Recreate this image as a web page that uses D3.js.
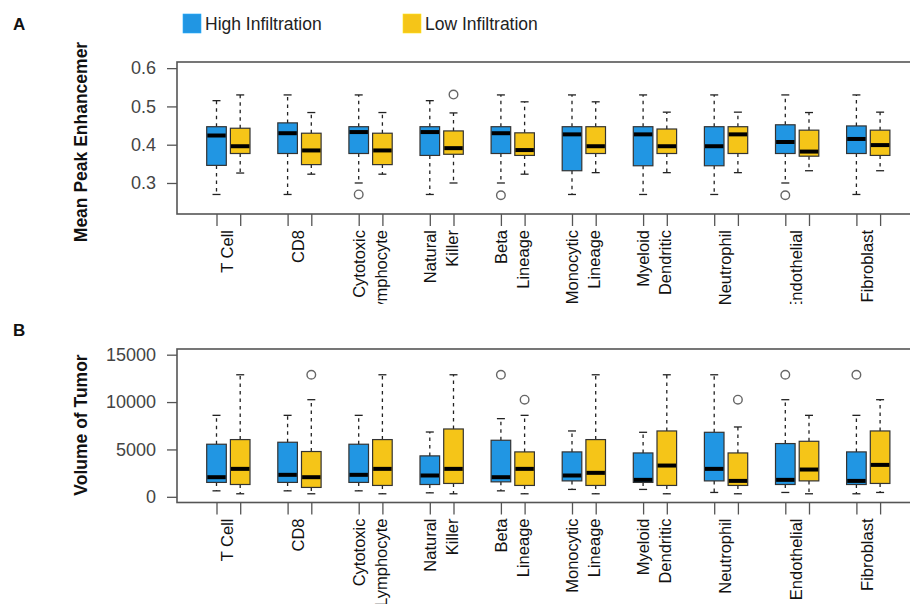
<!DOCTYPE html>
<meta charset="utf-8">
<style>
    body { margin: 0; background: #fff; }
    svg { display: block; font-family: "Liberation Sans", Arial, Helvetica, sans-serif; }
    .frame { fill: none; stroke: #555; stroke-width: 1.6px; }
    .axis path { display: none; }
    .axis line { stroke: #555; stroke-width: 1.3px; }
    .axis text { fill: #444; font-size: 18px; font-family: "Liberation Sans", Arial, sans-serif; }
    .catlabel { fill: #111; font-size: 16.5px; }
    .ytitle { fill: #111; font-size: 17.5px; font-weight: bold; }
    .panel { fill: #111; font-size: 17px; font-weight: bold; }
    .whisker { stroke: #222; stroke-width: 1.3px; stroke-dasharray: 3.5,4; }
    .cap { stroke: #222; stroke-width: 1.3px; }
    .box { stroke: #333; stroke-width: 1.2px; }
    .median { stroke: #000; stroke-width: 4px; }
    .outlier { fill: none; stroke: #666; stroke-width: 1.4px; }
</style>
<script src="https://d3js.org/d3.v7.min.js"></script>
<body>
<div id="chart"></div>
<script>
// categories (each entry = lines of the rotated label)
var categories = [["T Cell"], ["CD8"], ["Cytotoxic", "Lymphocyte"], ["Natural", "Killer"],
    ["Beta", "Lineage"], ["Monocytic", "Lineage"], ["Myeloid", "Dendritic"],
    ["Neutrophil"], ["Endothelial"], ["Fibroblast"]];
var seriesNames = ["High Infiltration", "Low Infiltration"];
var seriesColors = ["#2196e3", "#f5c518"];

// Panel A: mean peak enhancement, [lower whisker, q1, median, q3, upper whisker]
var enhHigh = [
    [0.270, 0.346, 0.424, 0.447, 0.515],
    [0.270, 0.377, 0.430, 0.457, 0.530],
    [0.300, 0.377, 0.433, 0.447, 0.530],
    [0.270, 0.372, 0.433, 0.447, 0.515],
    [0.300, 0.377, 0.430, 0.447, 0.530],
    [0.270, 0.332, 0.427, 0.447, 0.530],
    [0.270, 0.345, 0.427, 0.447, 0.530],
    [0.270, 0.345, 0.396, 0.447, 0.530],
    [0.300, 0.377, 0.407, 0.452, 0.530],
    [0.270, 0.377, 0.415, 0.449, 0.530]
];
var enhLow = [
    [0.326, 0.377, 0.396, 0.443, 0.530],
    [0.323, 0.348, 0.385, 0.430, 0.484],
    [0.323, 0.348, 0.385, 0.430, 0.484],
    [0.300, 0.375, 0.391, 0.436, 0.483],
    [0.323, 0.372, 0.386, 0.431, 0.512],
    [0.327, 0.377, 0.396, 0.447, 0.512],
    [0.327, 0.377, 0.396, 0.441, 0.485],
    [0.327, 0.377, 0.427, 0.447, 0.485],
    [0.332, 0.370, 0.382, 0.438, 0.484],
    [0.332, 0.372, 0.399, 0.438, 0.485]
];
var enhHighOut = [[], [], [0.270], [], [0.268], [], [], [], [0.268], []];
var enhLowOut = [[], [], [], [0.531], [], [], [], [], [], []];

// Panel B: volume of tumor
var volHigh = [
    [630, 1520, 2070, 5550, 8600],
    [630, 1520, 2320, 5760, 8600],
    [630, 1520, 2320, 5550, 8600],
    [420, 1300, 2250, 4320, 6840],
    [630, 1580, 2070, 5970, 8250],
    [780, 1680, 2250, 4740, 6950],
    [780, 1520, 1790, 4630, 6810],
    [460, 1680, 2950, 6810, 12880],
    [460, 1300, 1790, 5620, 10250],
    [320, 1300, 1680, 4740, 8600]
];
var volLow = [
    [320, 1300, 2950, 6040, 12880],
    [320, 990, 2070, 4780, 10250],
    [320, 1200, 2950, 6040, 12880],
    [320, 1410, 2950, 7160, 12880],
    [320, 1200, 2950, 4740, 8600],
    [320, 1200, 2530, 6040, 12880],
    [320, 1200, 3300, 6950, 12880],
    [320, 1200, 1680, 4630, 7370],
    [320, 1680, 2880, 5860, 8600],
    [460, 1410, 3370, 6950, 10250]
];
var volHighOut = [[], [], [], [], [12880], [], [], [], [12880], [12880]];
var volLowOut = [[], [12880], [], [], [10250], [], [], [10250], [], []];

var enhTicks = [0.3, 0.4, 0.5, 0.6];
var volTicks = [0, 5000, 10000, 15000];

var width = 910, height = 604;
var svg = d3.select("#chart").append("svg")
    .attr("width", width)
    .attr("height", height);

// box positions: 1,2, 4,5, 7,8 ...
var x = d3.scaleLinear().domain([0, 30]).range([192.8, 903.8]);
var boxHalf = 9.8;
var frameLeft = 177, frameRight = 925;

// legend
seriesNames.forEach(function (name, i) {
    var lx = [183, 403][i];
    svg.append("rect")
        .attr("x", lx).attr("y", 14).attr("width", 18).attr("height", 19)
        .attr("fill", seriesColors[i]).attr("stroke-width", 0.6)
        .attr("stroke", d3.color(seriesColors[i]).brighter(0.4));
    svg.append("text")
        .attr("x", lx + 22).attr("y", 29.5)
        .style("font-size", "17.5px").style("fill", "#222")
        .text(name);
});

svg.append("defs").append("clipPath").attr("id", "clipA")
    .append("rect").attr("x", 0).attr("y", 0).attr("width", width).attr("height", 304);

function drawPanel(opt) {
    var g = svg.append("g");
    var y = d3.scaleLinear().domain(opt.domain).range([opt.bottom, opt.top]);

    g.append("text").attr("class", "panel")
        .attr("x", 13).attr("y", opt.letterY).text(opt.letter);

    g.append("text").attr("class", "ytitle")
        .attr("transform", "translate(87," + opt.titleY + ") rotate(-90)")
        .attr("text-anchor", "middle")
        .text(opt.title);

    g.append("g").attr("class", "axis")
        .attr("transform", "translate(" + frameLeft + ",0)")
        .call(d3.axisLeft(y).tickValues(opt.ticks).tickSize(10).tickPadding(11)
            .tickFormat(opt.fmt));

    var pos = [];
    categories.forEach(function (c, i) { pos.push(1 + 3 * i, 2 + 3 * i); });
    g.append("g").attr("class", "axis")
        .attr("transform", "translate(0," + opt.bottom + ")")
        .call(d3.axisBottom(x).tickValues(pos).tickSize(12).tickFormat(""));

    var labels = g.append("g");
    if (opt.clip) labels.attr("clip-path", "url(#" + opt.clip + ")");
    categories.forEach(function (lines, i) {
        var cx = x(1.5 + 3 * i) - 1;
        lines.forEach(function (line, j) {
            var lx = cx + (j - (lines.length - 1) / 2) * 22;
            labels.append("text").attr("class", "catlabel")
                .attr("transform", "translate(" + lx + "," + (opt.bottom + 16) + ") rotate(-90)")
                .attr("text-anchor", "end")
                .attr("dy", "0.36em")
                .text(line);
        });
    });

    [opt.high, opt.low].forEach(function (series, s) {
        var outs = s === 0 ? opt.highOut : opt.lowOut;
        series.forEach(function (d, i) {
            var cx = x(1 + s + 3 * i);
            var bg = g.append("g");
            bg.append("line").attr("class", "whisker")
                .attr("x1", cx).attr("x2", cx).attr("y1", y(d[3])).attr("y2", y(d[4]));
            bg.append("line").attr("class", "whisker")
                .attr("x1", cx).attr("x2", cx).attr("y1", y(d[1])).attr("y2", y(d[0]));
            [d[0], d[4]].forEach(function (v) {
                bg.append("line").attr("class", "cap")
                    .attr("x1", cx - 4).attr("x2", cx + 4).attr("y1", y(v)).attr("y2", y(v));
            });
            bg.append("rect").attr("class", "box")
                .attr("x", cx - boxHalf).attr("width", boxHalf * 2)
                .attr("y", y(d[3])).attr("height", y(d[1]) - y(d[3]))
                .attr("fill", seriesColors[s]);
            bg.append("line").attr("class", "median")
                .attr("x1", cx - boxHalf + 0.6).attr("x2", cx + boxHalf - 0.6)
                .attr("y1", y(d[2])).attr("y2", y(d[2]));
            outs[i].forEach(function (v) {
                bg.append("circle").attr("class", "outlier")
                    .attr("cx", cx).attr("cy", y(v)).attr("r", 4.3);
            });
        });
    });

    g.append("rect").attr("class", "frame")
        .attr("x", frameLeft).attr("y", opt.top)
        .attr("width", frameRight - frameLeft).attr("height", opt.bottom - opt.top);
}

drawPanel({
    letter: "A", letterY: 30, title: "Mean Peak Enhancemer", titleY: 142,
    domain: [0.219, 0.616], top: 62, bottom: 214,
    ticks: enhTicks, fmt: d3.format(".1f"),
    high: enhHigh, low: enhLow, highOut: enhHighOut, lowOut: enhLowOut,
    clip: "clipA"
});

drawPanel({
    letter: "B", letterY: 336, title: "Volume of Tumor", titleY: 425,
    domain: [-600, 15600], top: 349, bottom: 502.5,
    ticks: volTicks, fmt: d3.format("d"),
    high: volHigh, low: volLow, highOut: volHighOut, lowOut: volLowOut,
    clip: null
});
</script>
</body>
